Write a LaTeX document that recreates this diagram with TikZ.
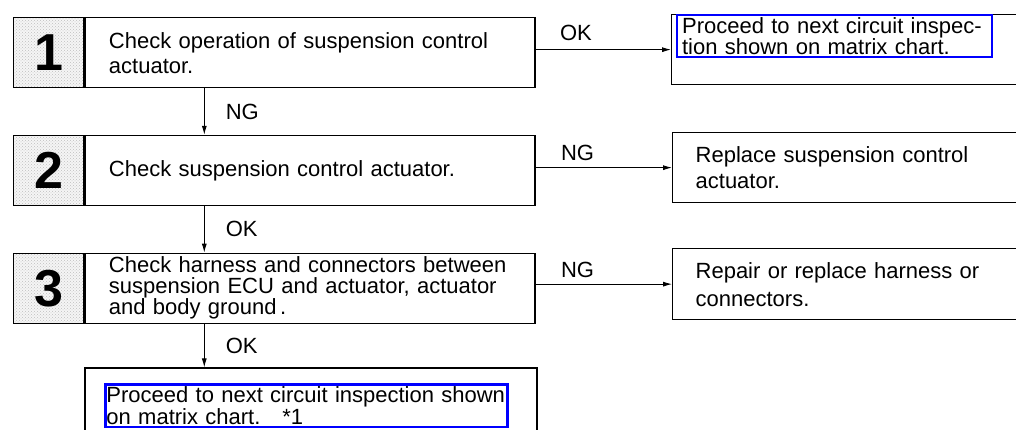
\documentclass[tikz,border=0pt]{standalone}
\usepackage{fontspec}
\setmainfont{Liberation Sans}
\usetikzlibrary{positioning,patterns,arrows.meta}

\tikzset{numbox/.style={draw,line width=1.3pt,minimum width=70pt,minimum height=70pt,inner sep=0pt,
          font=\fontsize{52}{52}\selectfont\bfseries,preaction={fill=gray!8},pattern=crosshatch dots,pattern color=gray!50}}
\tikzset{stepbox/.style={draw,line width=1.3pt,minimum width=450pt,minimum height=70pt,inner xsep=24pt,inner ysep=0pt,
          text width=402pt,align=left,font=\fontsize{22}{25}\selectfont}}
\tikzset{endbox/.style={draw,line width=1.3pt,minimum width=360pt,minimum height=70pt,inner xsep=23pt,inner ysep=0pt,
          text width=314pt,align=left,font=\fontsize{22}{27}\selectfont}}
\tikzset{outbox/.style={draw,line width=1.3pt,minimum width=452pt,minimum height=80pt}}
\tikzset{hilite/.style={draw=blue,line width=2.2pt,inner ysep=2pt,align=left}}
\tikzset{flow/.style={-{Latex[length=9pt,width=5pt]},line width=0.9pt}}
\tikzset{lbl/.style={font=\fontsize{22}{22}\selectfont,inner sep=0pt}}

\begin{document}
\begin{tikzpicture}[x=1pt,y=-1pt]
\useasboundingbox (0,0) rectangle (1016,430);
\clip (0,0) rectangle (1016,430);
\node[numbox,anchor=north west] (n1) at (13,17) {1};
\node[stepbox,right=0pt of n1] (t1) {Check operation of suspension control\\actuator.};
\node[numbox,below=46.5pt of n1] (n2) {2};
\node[stepbox,right=0pt of n2] (t2) {Check suspension control actuator.};
\node[numbox,below=46.5pt of n2] (n3) {3};
\node[stepbox,right=0pt of n3,font=\fontsize{22}{20.5}\selectfont] (t3)
     {Check harness and connectors between\\suspension ECU and actuator, actuator\\and body ground\,.};
\node[outbox,below right=43.5pt and 0pt of t3.south west] (b4) {};
\node[hilite,anchor=north west,inner xsep=1pt,text width=400pt,font=\fontsize{22}{22}\selectfont] (h4)
     at ([xshift=20pt,yshift=-16pt]b4.north west) {Proceed to next circuit inspection shown\\on matrix chart.\hspace{22pt}*1};

\node[endbox,anchor=north west] (r1) at (671,14) {};
\node[hilite,anchor=north west,inner xsep=5pt,text width=305pt,font=\fontsize{22}{20}\selectfont] (h1)
     at ([xshift=5pt]r1.north west) {Proceed to next circuit inspec-\\tion shown on matrix chart.};
\node[endbox,anchor=north west,font=\fontsize{22}{26}\selectfont] (r2) at (672,132) {Replace suspension control\\actuator.};
\node[endbox,anchor=north west,minimum height=71pt,font=\fontsize{22}{28}\selectfont] (r3) at (672,248) {Repair or replace harness or\\connectors.};

\draw[flow] ([xshift=120pt]t1.south west) -- ([xshift=120pt]t2.north west) node[lbl,midway,right=21pt] (ng1) {NG};
\draw[flow] ([xshift=120pt]t2.south west) -- ([xshift=120pt]t3.north west) node[lbl,midway,right=21pt] (ok2) {OK};
\draw[flow] ([xshift=120pt]t3.south west) -- ([xshift=120pt]b4.north west) node[lbl,midway,right=21pt] (ok3) {OK};
\draw[flow] (r1.west -| t1.east) -- (r1.west) node[lbl,pos=0,above right=8pt and 24pt] (ok1) {OK};
\draw[flow] (r2.west -| t2.east) -- (r2.west) node[lbl,pos=0,above right=6pt and 25pt] (ng2) {NG};
\draw[flow] (r3.west -| t3.east) -- (r3.west) node[lbl,pos=0,above right=6pt and 25pt] (ng3) {NG};
\end{tikzpicture}
\end{document}
